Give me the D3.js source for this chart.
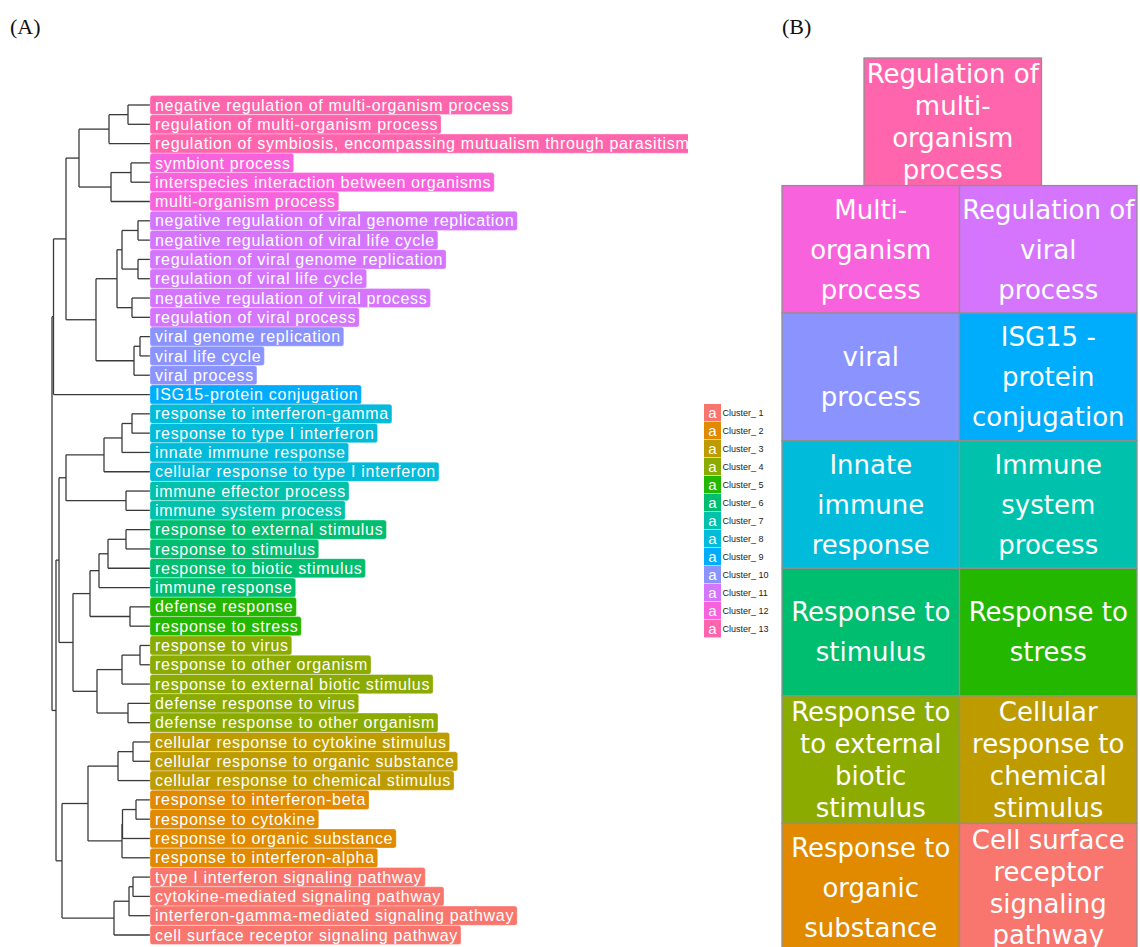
<!DOCTYPE html>
<html>
<head>
<meta charset="utf-8">
<script src="https://cdn.jsdelivr.net/npm/d3@7"></script>
<style>
  body { margin: 0; background: #fff; }
</style>
</head>
<body>
<svg id="chart" width="1140" height="947"></svg>
<script>
// leaf terms, top to bottom
var terms = [
  "negative regulation of multi-organism process",
  "regulation of multi-organism process",
  "regulation of symbiosis, encompassing mutualism through parasitism",
  "symbiont process",
  "interspecies interaction between organisms",
  "multi-organism process",
  "negative regulation of viral genome replication",
  "negative regulation of viral life cycle",
  "regulation of viral genome replication",
  "regulation of viral life cycle",
  "negative regulation of viral process",
  "regulation of viral process",
  "viral genome replication",
  "viral life cycle",
  "viral process",
  "ISG15-protein conjugation",
  "response to interferon-gamma",
  "response to type I interferon",
  "innate immune response",
  "cellular response to type I interferon",
  "immune effector process",
  "immune system process",
  "response to external stimulus",
  "response to stimulus",
  "response to biotic stimulus",
  "immune response",
  "defense response",
  "response to stress",
  "response to virus",
  "response to other organism",
  "response to external biotic stimulus",
  "defense response to virus",
  "defense response to other organism",
  "cellular response to cytokine stimulus",
  "cellular response to organic substance",
  "cellular response to chemical stimulus",
  "response to interferon-beta",
  "response to cytokine",
  "response to organic substance",
  "response to interferon-alpha",
  "type I interferon signaling pathway",
  "cytokine-mediated signaling pathway",
  "interferon-gamma-mediated signaling pathway",
  "cell surface receptor signaling pathway"
];
var termCluster = [13,13,13,12,12,12,11,11,11,11,11,11,10,10,10,9,8,8,8,8,7,7,6,6,6,6,5,5,4,4,4,4,4,3,3,3,2,2,2,2,1,1,1,1];

// hclust-style merges: negative = leaf number, positive = earlier merge; third = height
var merges = [
  [-1, -2, 0.22], [1, -3, 0.41], [-4, -5, 0.19], [3, -6, 0.39], [2, 4, 0.71],
  [-7, -8, 0.12], [-9, -10, 0.12], [6, 7, 0.28], [-11, -12, 0.18], [8, 9, 0.33],
  [-13, -14, 0.10], [11, -15, 0.16], [10, 12, 0.54], [5, 13, 0.84], [14, -16, 0.965],
  [-17, -18, 0.18], [16, -19, 0.28], [17, -20, 0.46], [-21, -22, 0.24], [18, 19, 0.84],
  [-23, -24, 0.24], [21, -25, 0.42], [22, -26, 0.51], [-27, -28, 0.20], [23, 24, 0.60],
  [-29, -30, 0.10], [26, -31, 0.28], [-32, -33, 0.22], [27, 28, 0.53], [25, 29, 0.77],
  [20, 30, 0.91], [-34, -35, 0.17], [32, -36, 0.32], [-37, -38, 0.14], [34, -39, 0.275],
  [35, -40, 0.28], [33, 36, 0.62], [-41, -42, 0.17], [38, -43, 0.21], [39, -44, 0.36],
  [37, 40, 0.88], [31, 41, 0.94], [15, 42, 0.98]
];

var clusterColors = ["#F8766D","#E18A00","#BE9C00","#8CAB00","#24B700","#00BE70","#00C1AB",
                     "#00BBDA","#00ACFC","#8B93FF","#D575FE","#F962DD","#FF65AC"];
var legendLabels = ["Cluster_ 1","Cluster_ 2","Cluster_ 3","Cluster_ 4","Cluster_ 5","Cluster_ 6","Cluster_ 7",
                    "Cluster_ 8","Cluster_ 9","Cluster_ 10","Cluster_ 11","Cluster_ 12","Cluster_ 13"];

// panel B tiles
var tileLines = [
  ["Regulation of","multi-","organism","process"],
  ["Multi-","organism","process"],
  ["Regulation of","viral","process"],
  ["viral","process"],
  ["ISG15 -","protein","conjugation"],
  ["Innate","immune","response"],
  ["Immune","system","process"],
  ["Response to","stimulus"],
  ["Response to","stress"],
  ["Response to","to external","biotic","stimulus"],
  ["Cellular","response to","chemical","stimulus"],
  ["Response to","organic","substance"],
  ["Cell surface","receptor","signaling","pathway"]
];
var tileCluster = [13,12,11,10,9,8,7,6,5,4,3,2,1];

var svg = d3.select("#chart");

// panel tags
svg.append("text").attr("x", 10).attr("y", 34).text("(A)")
  .attr("font-family", "Liberation Serif, DejaVu Serif, serif").attr("font-size", 22).attr("fill", "#111");
svg.append("text").attr("x", 782).attr("y", 34).text("(B)")
  .attr("font-family", "Liberation Serif, DejaVu Serif, serif").attr("font-size", 22).attr("fill", "#111");

// ---------- dendrogram ----------
var made = [];
function getNode(k) {
  if (k < 0) return { name: terms[-k - 1], idx: -k - 1, cluster: termCluster[-k - 1], h: 0 };
  return made[k - 1];
}
merges.forEach(function(m) {
  made.push({ children: [getNode(m[0]), getNode(m[1])], h: m[2] });
});
var root = d3.hierarchy(made[made.length - 1]);

var x = d3.scaleLinear().domain([0, 0.98]).range([150, 52]);
var y = d3.scalePoint().domain(d3.range(terms.length)).range([105, 935]);

root.eachAfter(function(n) {
  if (!n.children) n.py = y(n.data.idx);
  else n.py = d3.mean(n.children, function(c) { return c.py; });
  n.px = x(n.data.h);
});

var dend = svg.append("g").attr("fill", "none").attr("stroke", "#3a3a3a").attr("stroke-width", 1.3);
root.each(function(n) {
  if (!n.children) return;
  var ys = n.children.map(function(c) { return c.py; });
  dend.append("line").attr("x1", n.px).attr("x2", n.px).attr("y1", d3.min(ys)).attr("y2", d3.max(ys));
  n.children.forEach(function(c) {
    dend.append("line").attr("x1", n.px).attr("x2", c.px).attr("y1", c.py).attr("y2", c.py);
  });
});

svg.append("clipPath").attr("id", "clipA").append("rect").attr("x", 0).attr("y", 0).attr("width", 688).attr("height", 947);

var labels = svg.append("g").attr("clip-path", "url(#clipA)")
  .selectAll("g").data(root.leaves()).enter().append("g");

labels.append("rect")
  .attr("x", 150).attr("y", function(d) { return d.py - 9.6; })
  .attr("height", 19.2).attr("rx", 2.5)
  .attr("fill", function(d) { return clusterColors[d.data.cluster - 1]; })
  .attr("stroke", "#fff").attr("stroke-opacity", 0.4).attr("stroke-width", 0.8);

labels.append("text")
  .attr("x", 155).attr("y", function(d) { return d.py + 5.6; })
  .attr("font-family", "Liberation Sans, Arial, sans-serif").attr("font-size", 16)
  .attr("letter-spacing", 0.7)
  .attr("fill", "#fff")
  .text(function(d) { return d.data.name; });

labels.each(function() {
  var g = d3.select(this);
  var w = g.select("text").node().getComputedTextLength();
  g.select("rect").attr("width", w + 8);
});

// ---------- legend ----------
var ly = d3.scaleBand().domain(d3.range(legendLabels.length)).range([404, 638]);
var legend = svg.append("g").selectAll("g").data(legendLabels).enter().append("g")
  .attr("transform", function(d, i) { return "translate(704," + ly(i) + ")"; });
legend.append("rect").attr("width", 17).attr("height", ly.bandwidth() - 0.6)
  .attr("fill", function(d, i) { return clusterColors[i]; });
legend.append("text").attr("x", 8.5).attr("y", 13.5).attr("text-anchor", "middle")
  .attr("font-family", "Liberation Sans, Arial, sans-serif").attr("font-size", 15)
  .attr("fill", "#fff").text("a");
legend.append("text").attr("x", 18.5).attr("y", 11.5)
  .attr("font-family", "Liberation Sans, Arial, sans-serif").attr("font-size", 9)
  .attr("fill", "#222").text(function(d) { return d; });

// ---------- panel B tiles ----------
var rowScale = d3.scaleBand().domain(d3.range(7)).range([58, 951]);
var colScale = d3.scaleBand().domain([0, 1]).range([782, 1137]);

var tiles = svg.append("g").selectAll("g").data(tileLines).enter().append("g")
  .attr("transform", function(d, i) {
    var tx = i === 0 ? colScale(0) + 82 : colScale((i - 1) % 2);
    var ty = rowScale(i === 0 ? 0 : Math.ceil(i / 2));
    return "translate(" + tx + "," + ty + ")";
  });

tiles.append("rect")
  .attr("width", colScale.bandwidth()).attr("height", rowScale.bandwidth())
  .attr("fill", function(d, i) { return clusterColors[tileCluster[i] - 1]; })
  .attr("stroke", "#8f8f8f").attr("stroke-width", 1.3);

tiles.each(function(lines) {
  var g = d3.select(this);
  var h = rowScale.bandwidth(), w = colScale.bandwidth();
  var step = Math.min(40, h / lines.length);
  var top = h / 2 - step * (lines.length - 1) / 2;
  g.selectAll("text").data(lines).enter().append("text")
    .attr("x", w / 2).attr("y", function(d, j) { return top + j * step; })
    .attr("dy", "0.36em")
    .attr("text-anchor", "middle")
    .attr("font-family", "DejaVu Sans, sans-serif").attr("font-size", 26)
    .attr("fill", "#fff")
    .text(function(d) { return d; });
});
</script>
</body>
</html>
